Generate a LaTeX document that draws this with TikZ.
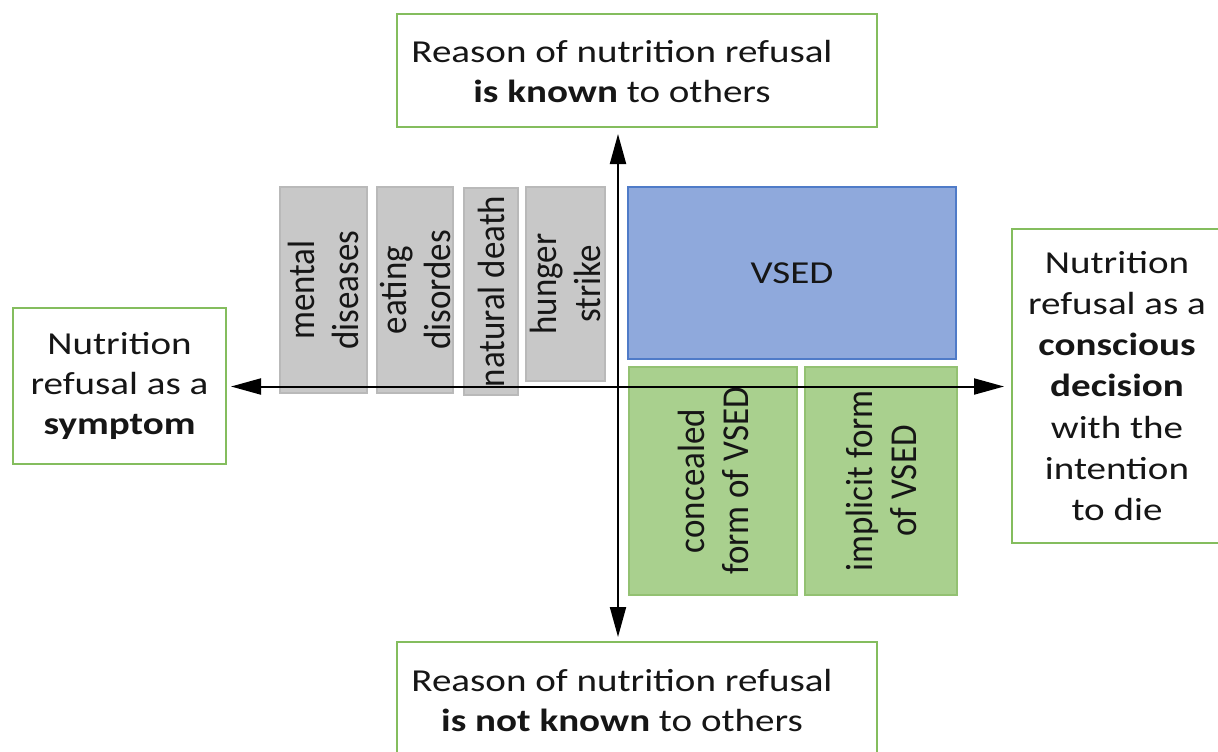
\documentclass[tikz,border=0pt]{standalone}
\usepackage{fontspec}
\setmainfont{Carlito}
\newfontfamily\hfont{Carlito}[FakeStretch=1.22]
\newfontfamily\vfont{Carlito}[FakeStretch=0.92]
\usetikzlibrary{arrows.meta}
\definecolor{boxgreen}{HTML}{84BD5E}
\definecolor{grayfill}{HTML}{C8C8C8}
\definecolor{graydraw}{HTML}{B9B9B9}
\definecolor{bluefill}{HTML}{8FA9DC}
\definecolor{bluedraw}{HTML}{4F7BC8}
\definecolor{greenfill}{HTML}{A9D08E}
\definecolor{greendraw}{HTML}{93C172}
\definecolor{txt}{HTML}{161616}
\begin{document}
\begin{tikzpicture}[x=0.5pt,y=-0.5pt,
  lbl/.style={draw=boxgreen,line width=1pt,fill=white,align=center,inner sep=0pt,text=txt,
    font=\hfont\fontsize{16pt}{20pt}\selectfont},
  lbltext/.style={align=center,inner sep=0pt,text=txt,font=\hfont\fontsize{16pt}{20pt}\selectfont},
  graybox/.style={draw=graydraw,line width=0.6pt,fill=grayfill,align=center,inner sep=0pt,text=txt,rotate=90,
    font=\vfont\fontsize{19pt}{22pt}\selectfont},
  greenbox/.style={draw=greendraw,line width=0.6pt,fill=greenfill,align=center,inner sep=0pt,text=txt,rotate=90,
    font=\vfont\fontsize{19pt}{22pt}\selectfont},
  bluebox/.style={draw=bluedraw,line width=0.8pt,fill=bluefill,align=center,inner sep=0pt,text=txt,
    font=\hfont\fontsize{16pt}{20pt}\selectfont},
  axis/.style={line width=1pt,{Triangle[length=15pt,width=8pt]}-{Triangle[length=15pt,width=8pt]}}
]
\clip (0,0) rectangle (1218,751);
\fill[white] (0,0) rectangle (1218,751);

% outer label boxes
\node[lbl,minimum width=240pt,minimum height=56.5pt,
  label={[lbltext,xshift=-7.5pt,yshift=-0.5pt]center:Reason of nutrition refusal\\\textbf{is known} to others}] (top) at (637,70.5) {};
\node[lbl,minimum width=240pt,minimum height=58pt,
  label={[lbltext,xshift=-7.5pt]center:Reason of nutrition refusal\\\textbf{is not known} to others}] (bottom) at (637,700) {};
\node[lbl,minimum width=106.5pt,minimum height=78pt] (left) at (119.5,386)
  {Nutrition\\refusal as a\\\textbf{symptom}};
\node[lbl,minimum width=105pt,minimum height=157pt,font=\hfont\fontsize{16pt}{20.6pt}\selectfont] (right) at (1117,386)
  {Nutrition\\refusal as a\\\textbf{conscious}\\\textbf{decision}\\with the\\intention\\to die};

% gray boxes (rotated)
\node[graybox,minimum width=103pt,minimum height=43.5pt] (mental) at (323.5,290) {mental\\diseases};
\node[graybox,minimum width=103pt,minimum height=38pt] (eating) at (415,290) {eating\\disordes};
\node[graybox,minimum width=103.5pt,minimum height=27pt] (natural) at (491,291.5) {natural death};
\node[graybox,minimum width=97pt,minimum height=39.5pt] (hunger) at (565.5,284) {hunger\\strike};

% VSED boxes
\node[bluebox,minimum width=164pt,minimum height=86pt] (vsed) at (792,273) {VSED};
\node[greenbox,minimum width=114pt,minimum height=84pt] (concealed) at (713,481) {concealed\\form of VSED};
\node[greenbox,minimum width=114pt,minimum height=76pt] (implicit) at (881,481) {implicit form\\of VSED};

% axes
\coordinate (c) at (618,386.5);
\draw[axis] ([yshift=-3pt]c |- top.south) -- ([yshift=2pt]c |- bottom.north);
\draw[axis] ([xshift=2pt]left.east |- c) -- ([xshift=-3.5pt]right.west |- c);
\end{tikzpicture}
\end{document}
